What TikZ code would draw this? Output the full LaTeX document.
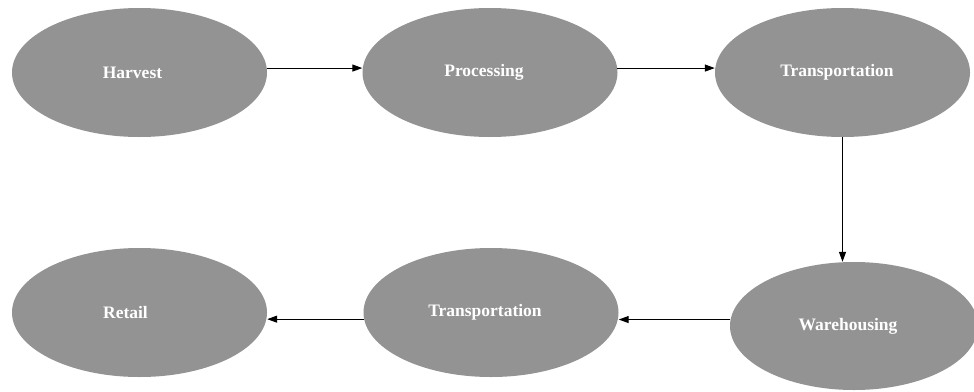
\documentclass[tikz,border=0pt]{standalone}
\usepackage{fontspec}
\setmainfont{Liberation Serif}
\usetikzlibrary{shapes.geometric,arrows.meta}
\definecolor{nodegray}{HTML}{939393}
\begin{document}
\begin{tikzpicture}[x=1pt,y=-1pt,
  stage/.style={ellipse, fill=nodegray, draw=none, inner sep=0pt,
    minimum width=255pt, minimum height=129pt, text=white,
    font=\fontsize{17.5}{20}\selectfont\bfseries},
  arr/.style={draw=black, line width=1.1pt, -{Triangle[length=10pt,width=7pt]}}]
\useasboundingbox (0,0) rectangle (974,391);
\fill[white] (0,0) rectangle (974,391);
\begin{scope}
\clip (0,0) rectangle (974,391);
\node[stage] (h)  at (139.5,72.5) {\hspace*{-14pt}Harvest};
\node[stage] (p)  at (490,72.5) {\hspace*{-12pt}Processing};
\node[stage] (t1) at (842.5,72.5) {\hspace*{-11pt}Transportation};
\node[stage, minimum width=248pt, minimum height=128pt] (w) at (854,326) {\hspace*{-12pt}Warehousing};
\node[stage] (t2) at (491,312.5) {\hspace*{-12pt}Transportation};
\node[stage] (r)  at (139.5,312.5) {\hspace*{-28pt}Retail};
\end{scope}
\draw[arr] (h.2.5) -- (h.2.5 -| p.west);
\draw[arr] (p.2.5) -- (p.2.5 -| t1.west);
\draw[arr] (t1.south) -- (t1.south |- w.north);
\draw[arr] (w.177.2) -- (w.177.2 -| t2.east);
\draw[arr] (t2.183.4) -- (t2.183.4 -| r.east);
\end{tikzpicture}
\end{document}
